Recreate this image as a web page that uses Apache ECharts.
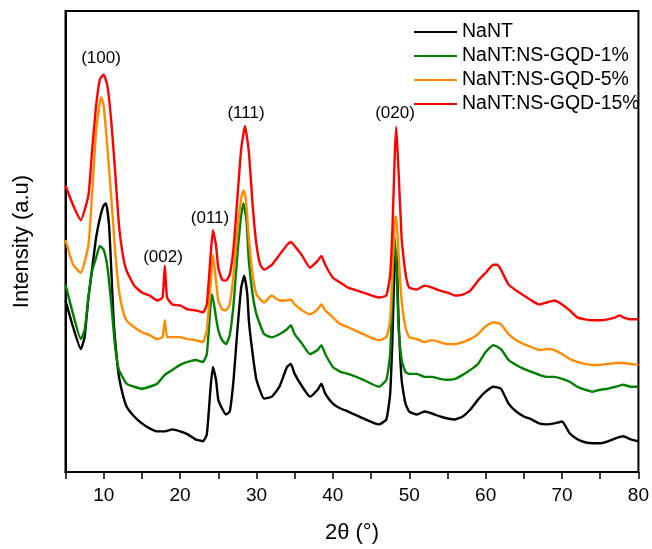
<!DOCTYPE html>
<html>
<head>
<meta charset="utf-8">
<script src="https://cdn.jsdelivr.net/npm/echarts@6/dist/echarts.min.js"></script>
<style>
html,body{margin:0;padding:0;background:#fff;}
#chart{width:652px;height:549px;}
</style>
</head>
<body>
<div id="chart"></div>
<script>
// Series names (legend order)
const seriesNames = ['NaNT', 'NaNT:NS-GQD-1%', 'NaNT:NS-GQD-5%', 'NaNT:NS-GQD-15%'];
// X axis tick values (labelled)
const xTickLabels = [10, 20, 30, 40, 50, 60, 70, 80];
// Peak annotations
const peakLabels = ['(100)', '(002)', '(011)', '(111)', '(020)'];

// [2theta, relative intensity (offset, arbitrary units)]
const nant = [[5,173],[6,146],[7,124],[7.5,136],[8,176],[8.5,206],[9,236],[9.5,256],[10,269],[10.3,271],[10.7,249],[11,203],[11.3,153],[11.7,116],[12,96],[12.5,78],[13,66],[14,56],[15,49],[16,44],[17,41],[18,41],[19,43],[20,41],[21,38],[22,33],[23,31],[23.5,38],[24,86],[24.3,106],[24.7,93],[25,73],[25.5,64],[26,58],[26.5,61],[27,93],[27.5,143],[28,186],[28.4,198],[28.8,179],[29,153],[29.5,119],[30,93],[31,74],[32,76],[33,86],[34,106],[34.5,109],[35,99],[36,86],[37,76],[38,83],[38.5,89],[39,79],[40,69],[41,64],[42,61],[44,54],[46,48],[47,53],[47.5,79],[47.8,136],[48.1,215],[48.3,222],[48.6,153],[49,93],[49.5,69],[50,61],[51,58],[52,61],[53,59],[54,56],[55,54],[56,53],[57,56],[58,63],[59,73],[60,81],[61,86],[62,84],[63,69],[64,61],[65,56],[66,53],[67,49],[68,48],[69,49],[70,51],[71,39],[72,33],[73,30],[74,29],[75,29],[76,31],[77,34],[78,36],[79,33],[80,31]];

const gqd1 = [[5,189],[6,159],[7,134],[7.5,143],[8,176],[8.5,203],[9,216],[9.5,228],[10,224],[10.5,206],[11,169],[11.5,126],[12,103],[13,89],[14,86],[15,84],[16,86],[17,89],[18,98],[19,103],[20,108],[21,111],[22,113],[23,111],[23.5,119],[24,169],[24.2,179],[24.7,156],[25,143],[25.5,133],[26,129],[26.5,138],[27,169],[27.5,219],[28,259],[28.3,271],[28.7,253],[29,213],[29.5,179],[30,159],[31,139],[32,136],[33,139],[34,144],[34.5,148],[35,139],[36,129],[37,119],[38,123],[38.5,128],[39,119],[40,106],[41,101],[42,99],[44,93],[46,86],[47,93],[47.5,119],[47.8,186],[48,241],[48.3,213],[48.6,146],[49,113],[49.5,101],[50,99],[51,99],[52,96],[53,96],[54,94],[55,93],[56,94],[57,98],[58,103],[59,109],[60,121],[61,128],[62,124],[63,113],[64,108],[65,104],[66,101],[67,98],[68,96],[69,96],[70,94],[71,91],[72,86],[73,83],[74,81],[75,83],[76,84],[77,86],[78,88],[79,86],[80,86]];

const gqd5 = [[5,234],[6,209],[7,201],[8,229],[8.5,283],[9,343],[9.5,373],[9.7,378],[10,369],[10.5,326],[11,276],[11.5,223],[12,183],[12.5,163],[13,153],[14,146],[15,141],[16,138],[17,134],[17.7,136],[18,153],[18.3,136],[19,136],[20,136],[21,134],[22,133],[23,131],[23.5,143],[24,189],[24.3,219],[24.7,193],[25,173],[25.5,164],[26,163],[26.5,169],[27,199],[27.5,243],[28,276],[28.3,284],[28.6,276],[29,236],[29.5,199],[30,179],[31,171],[32,178],[33,173],[34,173],[34.5,174],[35,169],[36,163],[37,159],[38,164],[38.5,169],[39,163],[40,156],[41,149],[42,146],[44,139],[46,133],[47,136],[47.5,153],[47.8,203],[48.1,253],[48.3,258],[48.6,219],[49,173],[49.5,146],[50,136],[51,134],[52,131],[53,133],[54,131],[55,129],[56,129],[57,131],[58,134],[59,139],[60,147],[61,151],[62,149],[63,139],[64,133],[65,129],[66,126],[67,123],[68,124],[69,123],[70,119],[71,114],[72,111],[73,109],[74,108],[75,108],[76,109],[77,110],[78,110],[79,109],[80,108]];

const gqd15 = [[5,289],[6,269],[7,254],[8,279],[8.5,326],[9,369],[9.5,396],[10,401],[10.5,389],[11,353],[11.5,303],[12,249],[12.5,219],[13,203],[14,188],[15,181],[16,178],[17,173],[17.7,176],[18,208],[18.3,176],[19,169],[20,168],[21,164],[22,163],[23,161],[23.5,169],[24,219],[24.3,244],[24.7,229],[25,206],[25.5,194],[26,193],[26.5,199],[27,226],[27.5,276],[28,326],[28.5,349],[29,323],[29.5,269],[30,229],[30.5,209],[31,204],[32,209],[33,219],[34,229],[34.5,232],[35,228],[36,218],[37,206],[38,213],[38.5,218],[39,209],[40,196],[41,191],[42,186],[44,181],[46,176],[47,178],[47.5,199],[47.8,246],[48.1,319],[48.3,348],[48.6,303],[49,236],[49.3,213],[49.6,196],[50,186],[51,184],[52,188],[53,186],[54,183],[55,181],[56,178],[57,179],[58,183],[59,193],[60,201],[61,209],[61.5,209],[62,204],[63,189],[64,183],[65,178],[66,173],[67,169],[68,171],[69,173],[70,169],[71,163],[72,156],[73,154],[74,153],[75,153],[76,154],[77,156],[77.5,158],[78,156],[79,154],[80,154]];

const seriesData = [nant, gqd1, gqd5, gqd15];
const colors = ['#000000', '#008000', '#ff8c00', '#ff0000'];
const FONT = '"Liberation Sans", Arial, sans-serif';

const chart = echarts.init(document.getElementById('chart'), null, {renderer: 'canvas'});

const annPos = [[101, 58], [163, 257], [210, 218], [246, 113], [395, 113]];

chart.setOption({
  animation: false,
  backgroundColor: '#ffffff',
  grid: {left: 65.5, right: 11.5, top: 11, bottom: 73, show: true, borderColor: '#000', borderWidth: 2, backgroundColor: 'transparent'},
  legend: {
    orient: 'vertical', left: 409, top: 17,
    itemWidth: 43, itemHeight: 2, icon: 'rect', itemGap: 4,
    textStyle: {fontSize: 19.5, fontFamily: FONT, color: '#000', lineHeight: 20},
    data: seriesNames
  },
  xAxis: {
    type: 'value', min: 5, max: 80, interval: 5,
    name: '2θ (°)', nameLocation: 'middle', nameGap: 50,
    nameTextStyle: {fontSize: 22, fontFamily: FONT, color: '#000'},
    axisLine: {show: true, lineStyle: {color: '#000', width: 2}},
    axisTick: {show: true, inside: false, length: 7, lineStyle: {color: '#000', width: 1.5}},
    axisLabel: {fontSize: 19, fontFamily: FONT, color: '#000', margin: 14,
      formatter: v => (xTickLabels.indexOf(v) >= 0 ? String(v) : '')},
    splitLine: {show: false}
  },
  yAxis: {
    type: 'value', min: 0, max: 465,
    name: 'Intensity (a.u)', nameLocation: 'middle', nameGap: 33, nameRotate: 90,
    nameTextStyle: {fontSize: 22, fontFamily: FONT, color: '#000'},
    axisLine: {show: true, lineStyle: {color: '#000', width: 2}},
    axisTick: {show: false}, axisLabel: {show: false}, splitLine: {show: false}
  },
  series: seriesNames.map((n, i) => ({
    name: n, type: 'line', data: seriesData[i], showSymbol: false, symbol: 'none',
    smooth: 0.15,
    color: colors[i], lineStyle: {color: colors[i], width: 2.4}, z: 2 + i
  })),
  graphic: peakLabels.map((t, i) => ({
    type: 'text', x: annPos[i][0], y: annPos[i][1],
    style: {text: t, fontSize: 17, fontFamily: FONT, fill: '#000', align: 'center', verticalAlign: 'middle'}
  }))
});
</script>
</body>
</html>
